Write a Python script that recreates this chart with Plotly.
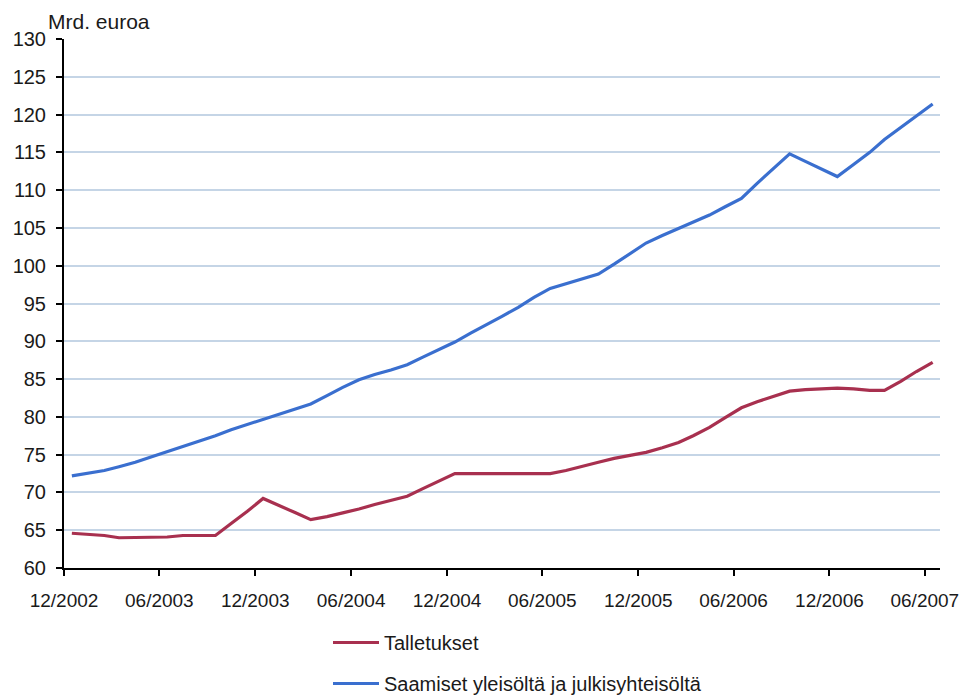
import pandas as pd
import plotly.graph_objects as go

# Monthly observations, 12/2002 ... 06/2007
months = pd.date_range("2002-12-01", periods=55, freq="MS") + pd.Timedelta(days=15)

talletukset = [
    64.6,
    64.5, 64.3, 64.0, 64.0, 64.0, 64.1, 64.3, 64.3, 64.3, 65.9, 67.5, 69.2,
    68.3, 67.3, 66.4, 66.8, 67.3, 67.8, 68.4, 69.0, 69.5, 70.5, 71.5, 72.5,
    72.5, 72.5, 72.5, 72.5, 72.5, 72.5, 72.9, 73.5, 74.0, 74.5, 74.9, 75.3,
    75.9, 76.6, 77.5, 78.6, 79.9, 81.2, 82.0, 82.7, 83.4, 83.6, 83.7, 83.8,
    83.7, 83.5, 83.5, 84.7, 86.0, 87.2,
]

saamiset = [
    72.2,
    72.5, 72.9, 73.4, 74.0, 74.7, 75.4, 76.1, 76.8, 77.5, 78.3, 79.0, 79.7,
    80.4, 81.0, 81.7, 82.8, 83.9, 84.9, 85.6, 86.2, 86.9, 87.9, 88.9, 89.9,
    91.1, 92.2, 93.3, 94.5, 95.8, 97.0, 97.6, 98.2, 98.9, 100.2, 101.6, 103.0,
    104.0, 104.9, 105.8, 106.7, 107.8, 108.9, 110.9, 112.8, 114.8, 113.8, 112.8, 111.8,
    113.4, 115.0, 116.7, 118.3, 119.9, 121.4,
]

series_names = ["Talletukset", "Saamiset yleisöltä ja julkisyhteisöltä"]
series_colors = ["#A8304F", "#3A6FCF"]

FONT = "Liberation Sans, Arial, sans-serif"

fig = go.Figure()
for name, vals, col, grp in zip(series_names, [talletukset, saamiset], series_colors, ["a", "b"]):
    fig.add_trace(go.Scatter(
        x=months, y=vals, mode="lines", name=name, legendgroup=grp,
        line=dict(color=col, width=3.2),
    ))

fig.update_layout(
    width=972, height=695,
    margin=dict(l=64, r=32, t=39, b=127, autoexpand=False),
    paper_bgcolor="white", plot_bgcolor="white",
    font=dict(family=FONT, size=21, color="#1a1a1a"),
    showlegend=True,
    legend=dict(
        x=(328 - 64) / 876, xanchor="left",
        y=-0.104, yanchor="top",
        traceorder="grouped", tracegroupgap=12,
        itemwidth=46,
        font=dict(family=FONT, size=20, color="#1a1a1a"),
        bgcolor="rgba(0,0,0,0)",
    ),
    annotations=[dict(
        text="Mrd. euroa", xref="paper", yref="paper",
        x=(46 - 64) / 876, y=1, xanchor="left", yanchor="bottom",
        showarrow=False, yshift=4,
        font=dict(family=FONT, size=21, color="#1a1a1a"),
    )],
)

fig.update_xaxes(
    type="date",
    range=["2002-12-01", "2007-06-30"],
    tick0="2002-12-01", dtick="M6", tickformat="%m/%Y",
    showgrid=False, zeroline=False,
    showline=True, linecolor="black", linewidth=2,
    ticks="outside", ticklen=6, tickwidth=2, tickcolor="black",
    ticklabelstandoff=8,
    tickfont=dict(family=FONT, size=19, color="#1a1a1a"),
)
fig.update_yaxes(
    range=[60, 130], dtick=5, tick0=60,
    showgrid=True, gridcolor="#C5D5E6", gridwidth=2,
    zeroline=False,
    showline=True, linecolor="black", linewidth=2,
    ticks="outside", ticklen=6, tickwidth=2, tickcolor="black",
    ticklabelstandoff=6,
    tickfont=dict(family=FONT, size=20, color="#1a1a1a"),
)

fig.write_html("out.html")
